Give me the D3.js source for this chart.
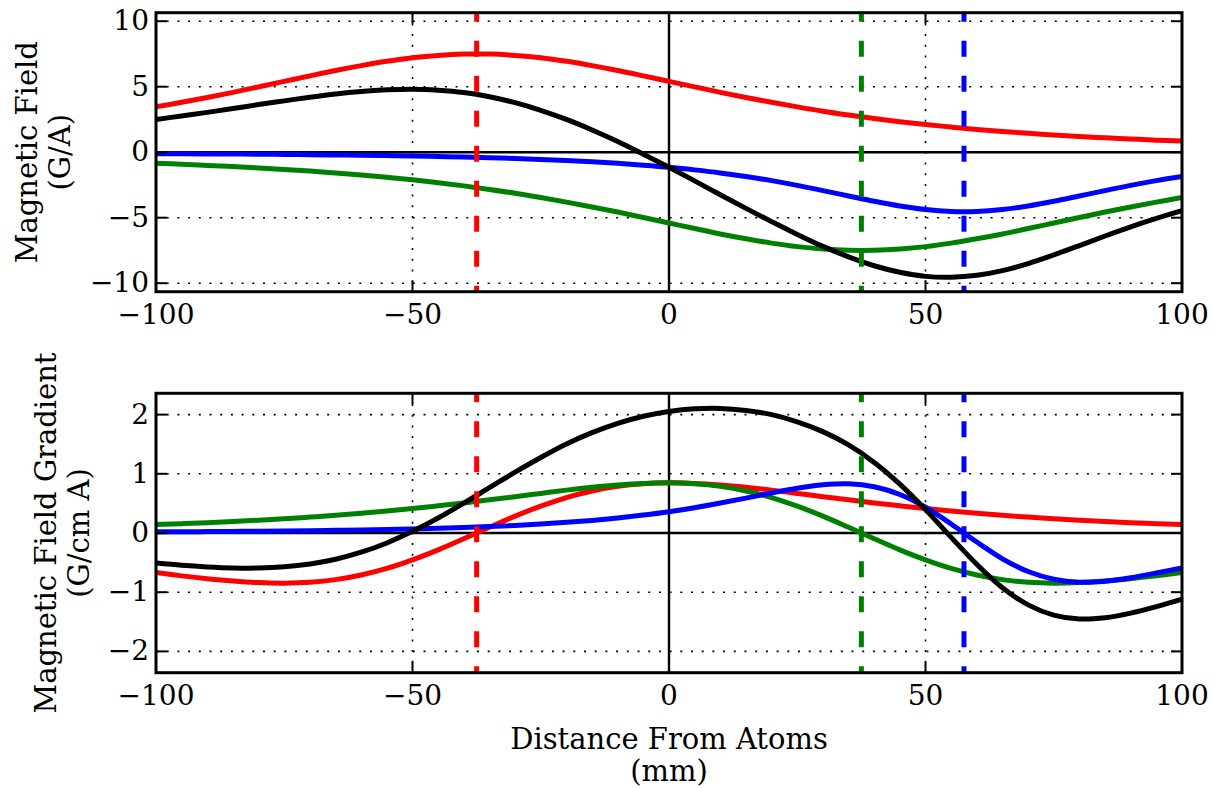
<!DOCTYPE html>
<html>
<head>
<meta charset="utf-8">
<script src="https://cdn.jsdelivr.net/npm/d3@7"></script>
<style>
  html, body { margin: 0; padding: 0; background: #fff; }
  svg { display: block; }
  text { font-family: "DejaVu Serif", serif; fill: #000; }
</style>
</head>
<body>
<svg id="chart" width="1226" height="788"></svg>
<script>
// Axial position along the coil axis (mm)
const positions = [-100,-95,-90,-85,-80,-75,-70,-65,-60,-55,-50,-45,-40,-35,-30,-25,-20,-15,-10,-5,
  0,5,10,15,20,25,30,35,40,45,50,55,60,65,70,75,80,85,90,95,100];

// Field per unit current (G/A) for each coil and the total
const fieldRed = [3.46,3.81,4.18,4.57,4.99,5.41,5.83,6.24,6.61,6.94,7.21,7.39,7.49,7.49,7.39,7.21,6.94,6.61,6.24,5.83,
  5.41,4.99,4.57,4.18,3.81,3.46,3.13,2.84,2.57,2.33,2.11,1.92,1.74,1.58,1.44,1.32,1.20,1.10,1.01,0.92,0.85];
const fieldGreen = [-0.85,-0.92,-1.01,-1.10,-1.20,-1.32,-1.44,-1.58,-1.74,-1.92,-2.11,-2.33,-2.57,-2.84,-3.13,-3.46,-3.81,-4.18,-4.57,-4.99,
  -5.41,-5.83,-6.24,-6.61,-6.94,-7.21,-7.39,-7.49,-7.49,-7.39,-7.21,-6.94,-6.61,-6.24,-5.83,-5.41,-4.99,-4.57,-4.18,-3.81,-3.46];
const fieldBlue = [-0.11,-0.12,-0.13,-0.14,-0.15,-0.17,-0.19,-0.21,-0.23,-0.26,-0.29,-0.33,-0.37,-0.42,-0.48,-0.55,-0.63,-0.73,-0.85,-0.99,
  -1.15,-1.35,-1.58,-1.86,-2.17,-2.53,-2.93,-3.34,-3.75,-4.11,-4.38,-4.53,-4.53,-4.38,-4.11,-3.75,-3.34,-2.93,-2.53,-2.17,-1.86];
const fieldTotal = [2.50,2.77,3.04,3.33,3.64,3.92,4.20,4.45,4.64,4.76,4.81,4.73,4.55,4.23,3.78,3.20,2.50,1.70,0.82,-0.15,
  -1.15,-2.19,-3.25,-4.29,-5.30,-6.28,-7.19,-7.99,-8.67,-9.17,-9.48,-9.55,-9.40,-9.04,-8.50,-7.84,-7.13,-6.40,-5.70,-5.06,-4.47];

// Field gradient per unit current (G/cm A)
const gradRed = [-0.669,-0.724,-0.772,-0.811,-0.838,-0.847,-0.832,-0.788,-0.710,-0.599,-0.454,-0.285,-0.097,0.097,0.285,0.454,0.599,0.710,0.788,0.832,
  0.847,0.838,0.811,0.772,0.724,0.669,0.614,0.560,0.508,0.459,0.413,0.372,0.334,0.299,0.269,0.241,0.216,0.194,0.175,0.157,0.142];
const gradGreen = [0.142,0.157,0.175,0.194,0.216,0.241,0.269,0.299,0.334,0.372,0.413,0.459,0.508,0.560,0.614,0.669,0.724,0.772,0.811,0.838,
  0.847,0.832,0.788,0.710,0.599,0.454,0.285,0.097,-0.097,-0.285,-0.454,-0.599,-0.710,-0.788,-0.832,-0.847,-0.838,-0.811,-0.772,-0.724,-0.669];
const gradBlue = [0.019,0.021,0.024,0.027,0.030,0.034,0.039,0.045,0.051,0.059,0.069,0.080,0.093,0.109,0.128,0.152,0.180,0.213,0.254,0.303,
  0.360,0.428,0.506,0.589,0.676,0.756,0.814,0.831,0.781,0.651,0.436,0.153,-0.153,-0.436,-0.651,-0.781,-0.831,-0.814,-0.756,-0.676,-0.589];
const gradTotal = [-0.508,-0.546,-0.573,-0.590,-0.592,-0.572,-0.524,-0.444,-0.325,-0.168,0.028,0.254,0.504,0.766,1.027,1.275,1.503,1.695,1.853,1.973,
  2.054,2.098,2.105,2.071,1.999,1.879,1.713,1.488,1.192,0.825,0.395,-0.074,-0.529,-0.925,-1.214,-1.387,-1.453,-1.431,-1.353,-1.243,-1.116];

// Coil centre markers (mm)
const markerPositions = [-37.5, 37.5, 57.5];
const markerColors = ["#ff0000", "#008000", "#0000ff"];

// Tick values and labels
const xTicks = [-100, -50, 0, 50, 100];
const fieldTicks = [-10, -5, 0, 5, 10];
const gradTicks = [-2, -1, 0, 1, 2];
const fieldLabel = ["Magnetic Field", "(G/A)"];
const gradLabel = ["Magnetic Field Gradient", "(G/cm A)"];
const xLabel = ["Distance From Atoms", "(mm)"];

const svg = d3.select("#chart");
const left = 156, right = 1182;
const x = d3.scaleLinear().domain([-100, 100]).range([left, right]);
const fmt = v => (v < 0 ? "\u2212" + Math.abs(v) : String(v));
const tickFont = 28, labelFont = 29;

function panel(id, top, bottom, yDomain, yTicks, series, yLabel, labelX) {
  const y = d3.scaleLinear().domain(yDomain).range([bottom, top]);
  const g = svg.append("g").attr("id", id);
  g.append("clipPath").attr("id", id + "-clip")
    .append("rect").attr("x", left).attr("y", top).attr("width", right - left).attr("height", bottom - top);
  const plot = g.append("g").attr("clip-path", `url(#${id}-clip)`);

  // dotted grid
  plot.selectAll(".hgrid").data(yTicks.filter(v => v !== 0)).join("line")
    .attr("x1", left).attr("x2", right).attr("y1", d => y(d)).attr("y2", d => y(d))
    .attr("stroke", "#000").attr("stroke-width", 1.6).attr("stroke-dasharray", "2,8.7");
  plot.selectAll(".vgrid").data(xTicks.filter(v => v !== 0)).join("line")
    .attr("y1", top).attr("y2", bottom).attr("x1", d => x(d)).attr("x2", d => x(d))
    .attr("stroke", "#000").attr("stroke-width", 1.6).attr("stroke-dasharray", "2,8.7");

  // zero reference lines
  plot.append("line").attr("x1", left).attr("x2", right).attr("y1", y(0)).attr("y2", y(0))
    .attr("stroke", "#000").attr("stroke-width", 2.4);
  plot.append("line").attr("x1", x(0)).attr("x2", x(0)).attr("y1", top).attr("y2", bottom)
    .attr("stroke", "#000").attr("stroke-width", 2.4);

  // curves
  const line = d3.line().x((d, i) => x(positions[i])).y(d => y(d)).curve(d3.curveCatmullRom.alpha(0.5));
  series.forEach(s => {
    plot.append("path").datum(s.values).attr("d", line)
      .attr("fill", "none").attr("stroke", s.color).attr("stroke-width", 5)
      .attr("stroke-linejoin", "round");
  });

  // coil centre markers
  plot.selectAll(".marker").data(markerPositions).join("line")
    .attr("x1", d => x(d)).attr("x2", d => x(d)).attr("y1", top).attr("y2", bottom)
    .attr("stroke", (d, i) => markerColors[i]).attr("stroke-width", 5)
    .attr("stroke-dasharray", "16,19").attr("stroke-dashoffset", 7);

  // ticks (inward on all four sides)
  const tl = 11;
  yTicks.forEach(v => {
    g.append("line").attr("x1", left).attr("x2", left + tl).attr("y1", y(v)).attr("y2", y(v))
      .attr("stroke", "#000").attr("stroke-width", 2);
    g.append("line").attr("x1", right - tl).attr("x2", right).attr("y1", y(v)).attr("y2", y(v))
      .attr("stroke", "#000").attr("stroke-width", 2);
    g.append("text").attr("x", left - 7).attr("y", y(v) + 9)
      .attr("text-anchor", "end").attr("font-size", tickFont).text(fmt(v));
  });
  xTicks.forEach(v => {
    g.append("line").attr("x1", x(v)).attr("x2", x(v)).attr("y1", bottom).attr("y2", bottom - tl)
      .attr("stroke", "#000").attr("stroke-width", 2);
    g.append("line").attr("x1", x(v)).attr("x2", x(v)).attr("y1", top).attr("y2", top + tl)
      .attr("stroke", "#000").attr("stroke-width", 2);
    g.append("text").attr("x", x(v)).attr("y", bottom + 32)
      .attr("text-anchor", "middle").attr("font-size", tickFont).text(fmt(v));
  });

  // frame
  g.append("rect").attr("x", left).attr("y", top).attr("width", right - left).attr("height", bottom - top)
    .attr("fill", "none").attr("stroke", "#000").attr("stroke-width", 3);

  // y-axis label, two lines
  const cy = (top + bottom) / 2;
  const lab = g.append("text").attr("transform", `translate(${labelX},${cy}) rotate(-90)`)
    .attr("text-anchor", "middle").attr("font-size", labelFont);
  lab.append("tspan").attr("x", 0).attr("y", 0).text(yLabel[0]);
  lab.append("tspan").attr("x", 0).attr("y", 33).text(yLabel[1]);
  return y;
}

panel("field", 12.7, 291.7, [-10.65, 10.65], fieldTicks, [
  { values: fieldRed, color: "#ff0000" },
  { values: fieldGreen, color: "#008000" },
  { values: fieldBlue, color: "#0000ff" },
  { values: fieldTotal, color: "#000000" }
], fieldLabel, 37);

panel("gradient", 393.3, 672.7, [-2.36, 2.36], gradTicks, [
  { values: gradRed, color: "#ff0000" },
  { values: gradGreen, color: "#008000" },
  { values: gradBlue, color: "#0000ff" },
  { values: gradTotal, color: "#000000" }
], gradLabel, 56);

// shared x-axis label, two lines
const xl = svg.append("text").attr("text-anchor", "middle").attr("font-size", labelFont);
xl.append("tspan").attr("x", x(0)).attr("y", 749).text(xLabel[0]);
xl.append("tspan").attr("x", x(0)).attr("y", 781).text(xLabel[1]);
</script>
</body>
</html>
